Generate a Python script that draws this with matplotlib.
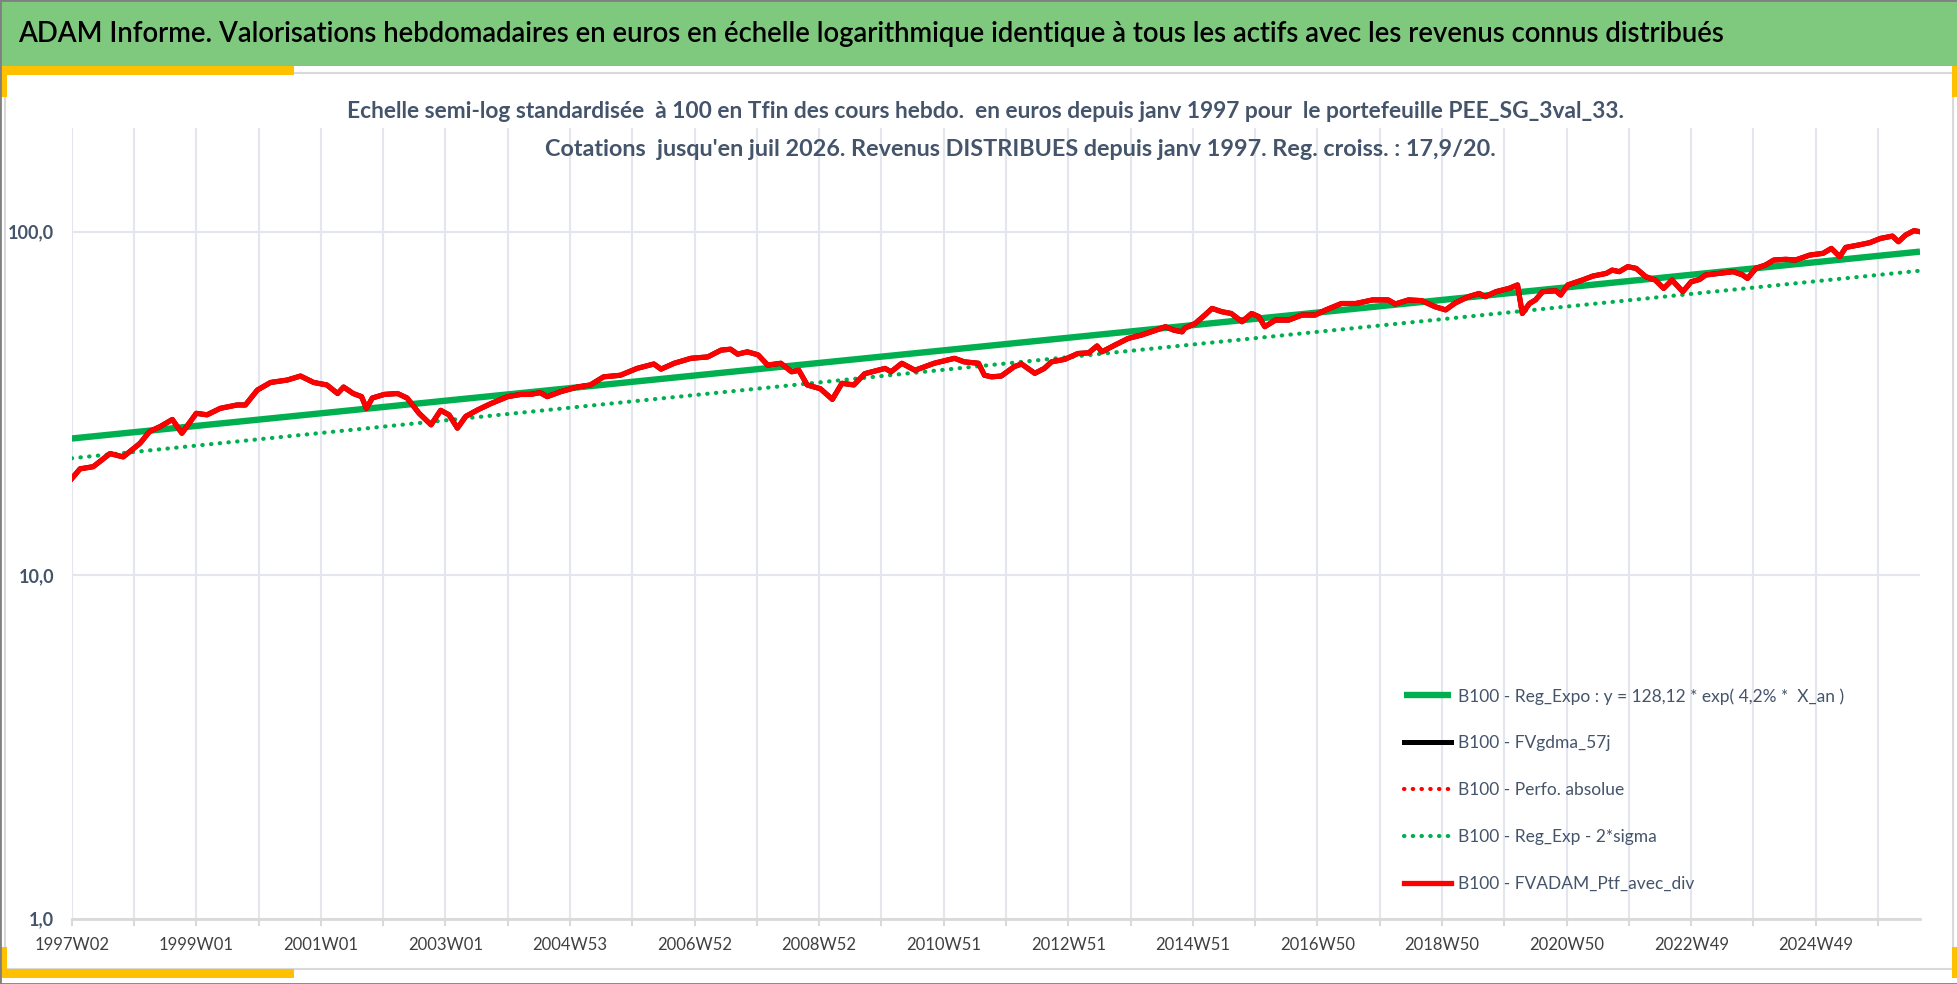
import matplotlib
matplotlib.use("Agg")
import matplotlib.pyplot as plt
from matplotlib.patches import Rectangle

# taille de l'image (pixels) et helpers de position
W, H = 1958, 984
def fx(x):
    return x / W
def fy(y):
    return 1 - y / H

# Données (index de semaine depuis 1997W02, base 100)
semaines = [0, 7, 18, 32, 43, 57, 65, 74, 84, 92, 104, 113, 124, 138, 145, 155, 166, 180, 191, 202,
            213, 222, 227, 235, 242, 246, 251, 261, 272, 280, 290, 300, 308, 315, 322, 329, 339, 350, 364, 375,
            383, 391, 397, 408, 422, 433, 444, 458, 472, 486, 492, 503, 517, 531, 542, 550, 556, 564, 573, 581,
            592, 601, 607, 614, 625, 635, 643, 653, 662, 679, 684, 693, 704, 720, 737, 745, 757, 762, 768, 776,
            787, 793, 804, 812, 818, 829, 840, 849, 856, 860, 871, 882, 893, 904, 913, 920, 927, 929, 938, 946,
            952, 960, 968, 977, 985, 991, 996, 1005, 1016, 1027, 1038, 1047, 1060, 1072, 1086, 1099, 1105, 1116, 1127, 1138,
            1147, 1155, 1166, 1175, 1180, 1189, 1200, 1207, 1211, 1217, 1222, 1228, 1239, 1243, 1249, 1261, 1270, 1281, 1286, 1292,
            1299, 1306, 1314, 1322, 1329, 1336, 1345, 1352, 1359, 1364, 1375, 1387, 1395, 1399, 1406, 1414, 1421, 1431, 1439, 1451,
            1462, 1469, 1476, 1481, 1492, 1501, 1510, 1520, 1525, 1531, 1538, 1543]
ptf_avec_div = [19.1, 20.4, 20.7, 22.6, 22.1, 24.2, 26.2, 27.1, 28.4, 25.9, 29.6, 29.3, 30.6, 31.3, 31.3, 34.6, 36.4, 37.0, 38.0, 36.4,
                35.8, 33.8, 35.3, 33.8, 33.1, 30.6, 32.8, 33.6, 33.8, 32.8, 29.6, 27.4, 30.2, 29.3, 26.8, 29.0, 30.3, 31.6, 33.1, 33.6,
                33.6, 34.0, 33.1, 34.2, 35.3, 35.8, 37.8, 38.2, 40.0, 41.2, 39.8, 41.4, 42.8, 43.2, 45.2, 45.5, 44.0, 44.7, 43.8, 40.9,
                41.4, 39.1, 39.5, 35.8, 34.9, 32.5, 36.2, 35.8, 38.6, 40.0, 39.1, 41.4, 39.5, 41.4, 42.8, 41.8, 41.4, 38.2, 37.8, 38.0,
                40.5, 41.2, 38.7, 40.0, 41.8, 42.5, 44.2, 44.4, 46.5, 44.7, 46.8, 48.9, 50.0, 51.5, 52.9, 51.7, 51.1, 52.3, 54.1, 57.2,
                59.8, 58.5, 57.8, 54.7, 57.8, 56.6, 52.9, 55.3, 55.3, 57.2, 57.2, 59.2, 61.8, 61.8, 63.3, 63.3, 61.6, 63.3, 63.0, 60.5,
                59.2, 62.0, 64.7, 66.1, 64.7, 66.9, 68.4, 70.0, 57.8, 61.8, 63.3, 66.9, 67.3, 65.4, 70.0, 72.3, 74.3, 75.6, 77.3, 76.5,
                79.1, 78.2, 74.0, 72.3, 68.4, 72.3, 66.9, 71.5, 72.6, 74.8, 75.6, 76.5, 74.8, 73.1, 78.2, 80.0, 82.7, 83.1, 82.7, 85.5,
                86.5, 89.4, 84.6, 90.0, 91.5, 92.9, 95.6, 97.1, 93.5, 97.8, 100.7, 100.0]

# droites de régression (extrémités lues)
reg_semaines = [0, 1543]
reg_expo = [25.0, 87.5]
reg_moins_2sigma = [21.9, 77.0]

# axe des abscisses
grille_semaines = list(range(0, 1544, 52))
etiquettes_x = ["1997W02", "1999W01", "2001W01", "2003W01", "2004W53", "2006W52", "2008W52", "2010W51",
                "2012W51", "2014W51", "2016W50", "2018W50", "2020W50", "2022W49", "2024W49"]
y_ticks = [1, 10, 100]
y_labels = ["1,0", "10,0", "100,0"]

titre = ("ADAM Informe. Valorisations hebdomadaires en euros en échelle logarithmique identique "
         "à tous les actifs avec les revenus connus distribués")
sous_titre_1 = ("Echelle semi-log standardisée  à 100 en Tfin des cours hebdo.  en euros depuis janv 1997 "
                "pour  le portefeuille PEE_SG_3val_33.")
sous_titre_2 = "Cotations  jusqu'en juil 2026. Revenus DISTRIBUES depuis janv 1997. Reg. croiss. : 17,9/20."

noms = ["B100 - Reg_Expo : y = 128,12 * exp( 4,2% *  X_an )",
        "B100 - FVgdma_57j",
        "B100 - Perfo. absolue",
        "B100 - Reg_Exp - 2*sigma",
        "B100 - FVADAM_Ptf_avec_div"]

plt.rcParams["font.family"] = ["Lato", "DejaVu Sans"]

VERT = "#00B050"
ROUGE = "#FF0000"
GRILLE = "#E3E6EE"
TEXTE = "#44546A"

fig = plt.figure(figsize=(W / 100, H / 100), dpi=100)

# bandeau titre
fig.patches.append(Rectangle((0, fy(66)), 1, 66 / H, transform=fig.transFigure,
                             facecolor="#7FC97F", edgecolor="none", zorder=0))
fig.text(fx(18), fy(34), titre, fontsize=19.8, fontweight="semibold", color="black", va="center", ha="left")

# cadre du graphique
fig.patches.append(Rectangle((fx(5), fy(969)), fx(1953) - fx(5), (969 - 73) / H, transform=fig.transFigure,
                             facecolor="none", edgecolor="#D9D9D9", lw=1.5, zorder=1))
# coins jaunes
for (x0, y0, w, h) in [(0, 66, 294, 9), (0, 66, 7, 31), (0, 969, 294, 9), (0, 947, 7, 31),
                       (1952, 66, 6, 31), (1952, 947, 6, 31)]:
    fig.patches.append(Rectangle((fx(x0), fy(y0 + h)), w / W, h / H, transform=fig.transFigure,
                                 facecolor="#FFC000", edgecolor="none", zorder=2))
# bordure extérieure
fig.patches.append(Rectangle((0, 0), 1, 1, transform=fig.transFigure,
                             facecolor="none", edgecolor="#808080", lw=2, zorder=3))

fig.text(fx(986), fy(112), sous_titre_1, fontsize=16.4, fontweight="bold", color=TEXTE, ha="center", va="center")
fig.text(fx(1020), fy(150), sous_titre_2, fontsize=16.8, fontweight="bold", color=TEXTE, ha="center", va="center")

ax = fig.add_axes([fx(71.7), fy(918.7), (1920 - 71.7) / W, (918.7 - 128.3) / H])
ax.patch.set_alpha(0)

l1, = ax.plot(reg_semaines, reg_expo, color=VERT, lw=4.6, solid_capstyle="butt", zorder=3)
l4, = ax.plot(reg_semaines, reg_moins_2sigma, color=VERT, lw=3, linestyle=(0, (0.1, 2.0)),
              dash_capstyle="round", zorder=3)
l2, = ax.plot(semaines, ptf_avec_div, color="black", lw=3.6, zorder=4)
l3, = ax.plot(semaines, ptf_avec_div, color=ROUGE, lw=3, linestyle=(0, (0.1, 2.0)),
              dash_capstyle="round", zorder=5)
l5, = ax.plot(semaines, ptf_avec_div, color=ROUGE, lw=3.8, zorder=6)

ax.set_yscale("log")
ax.set_ylim(1, 200)
ax.set_xlim(0, 1543)
ax.set_yticks(y_ticks)
ax.set_yticklabels(y_labels)
ax.yaxis.set_minor_locator(matplotlib.ticker.NullLocator())
ax.set_xticks(grille_semaines)
labels_x = []
for i in range(len(grille_semaines)):
    labels_x.append(etiquettes_x[i // 2] if i % 2 == 0 else "")
ax.set_xticklabels(labels_x)

ax.grid(True, color=GRILLE, lw=1.5)
ax.set_axisbelow(True)
for s in ["top", "right", "left"]:
    ax.spines[s].set_visible(False)
ax.spines["bottom"].set_color("#D9D9D9")
ax.spines["bottom"].set_linewidth(2)
ax.tick_params(axis="y", length=0, pad=12.5, labelsize=13, labelcolor=TEXTE)
for t in ax.get_yticklabels():
    t.set_fontweight("bold")
ax.tick_params(axis="x", length=5, width=1.5, color="#D9D9D9", pad=8, labelsize=12, labelcolor="#404040")

leg = fig.legend([l1, l2, l3, l4, l5], noms, loc="upper left", bbox_to_anchor=(fx(1404), fy(688)),
                 frameon=False, fontsize=12.5, handlelength=2.7, handletextpad=0.4,
                 labelspacing=1.78, borderpad=0, borderaxespad=0)
for t in leg.get_texts():
    t.set_color(TEXTE)

fig.savefig("out.png", dpi=100)
